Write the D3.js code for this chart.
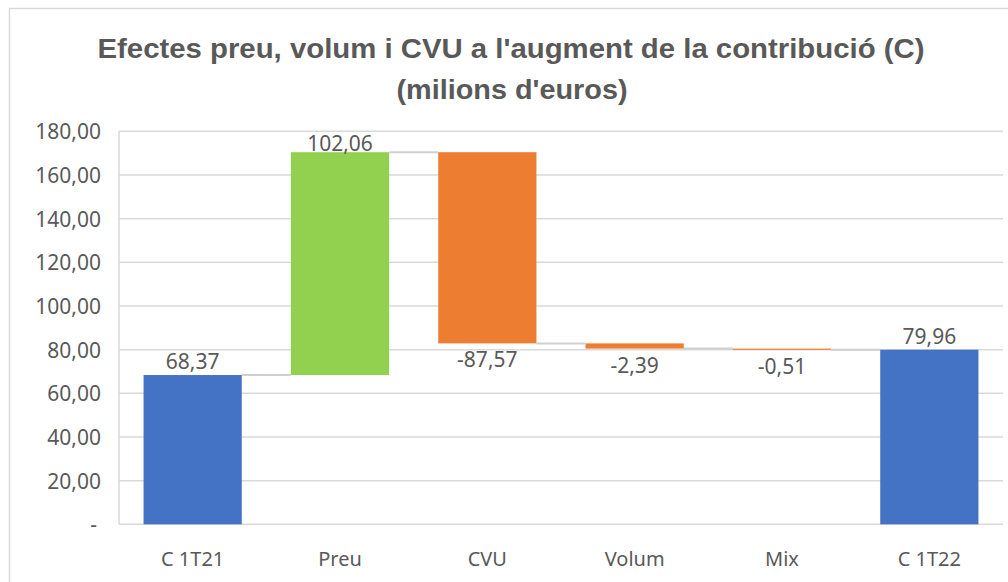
<!DOCTYPE html>
<html>
<head>
<meta charset="utf-8">
<script src="https://cdn.jsdelivr.net/npm/d3@7"></script>
<style>
  html, body { margin: 0; padding: 0; background: #fff; }
  svg { display: block; }
</style>
</head>
<body>
<svg id="chart" width="1008" height="582"></svg>
<script>
// ---- data ----
const categories = ["C 1T21", "Preu", "CVU", "Volum", "Mix", "C 1T22"];
const values = [68.37, 102.06, -87.57, -2.39, -0.51, 79.96];
const kinds = ["total", "delta", "delta", "delta", "delta", "total"];
const yTicks = [0, 20, 40, 60, 80, 100, 120, 140, 160, 180];
const titleLines = ["Efectes preu, volum i CVU a l'augment de la contribució  (C)", "(milions d'euros)"];

// ---- layout ----
const W = 1008, H = 582;
const plot = { left: 119, right: 1003, top: 131.3, bottom: 524.3 };
const textColor = "#595959";
const gridColor = "#d9d9d9";
const colors = { total: "#4472C4", up: "#92D050", down: "#ED7D31" };
const numFmt = v => d3.format(".2f")(v).replace(".", ",").replace("\u2212", "-");

const svg = d3.select("#chart");

// chart border
svg.append("rect").attr("x", 9.5).attr("y", 8.5).attr("width", W + 20).attr("height", H + 20)
  .attr("fill", "#fff").attr("stroke", gridColor).attr("stroke-width", 1.5);

// title
const title = svg.append("g").attr("font-family", "'Liberation Sans Narrow','Arial Narrow','Liberation Sans',sans-serif")
  .attr("font-weight", "bold").attr("fill", textColor).attr("font-size", 28);
title.append("text").attr("x", 511).attr("y", 58).attr("text-anchor", "middle")
  .attr("textLength", 827).attr("lengthAdjust", "spacingAndGlyphs").text(titleLines[0]);
title.append("text").attr("x", 512).attr("y", 99).attr("text-anchor", "middle")
  .attr("textLength", 231).attr("lengthAdjust", "spacingAndGlyphs").text(titleLines[1]);

// scales
const x = d3.scaleBand().domain(categories).range([plot.left, plot.right]).paddingInner(1/3).paddingOuter(1/6);
const y = d3.scaleLinear().domain([0, 180]).range([plot.bottom, plot.top]);

// waterfall computation
let running = 0;
const bars = categories.map((c, i) => {
  const v = values[i];
  let lo, hi, kind;
  if (kinds[i] === "total") { lo = 0; hi = v; running = v; kind = "total"; }
  else { const start = running; running = start + v; lo = Math.min(start, running); hi = Math.max(start, running); kind = v >= 0 ? "up" : "down"; }
  return { cat: c, v, lo, hi, end: running, kind };
});

// gridlines
svg.append("g").selectAll("line").data(yTicks).join("line")
  .attr("x1", plot.left).attr("x2", plot.right)
  .attr("y1", d => y(d)).attr("y2", d => y(d))
  .attr("stroke", gridColor).attr("stroke-width", 1.5);
// left plot edge line
svg.append("line").attr("x1", plot.left).attr("x2", plot.left).attr("y1", plot.top).attr("y2", plot.bottom)
  .attr("stroke", gridColor).attr("stroke-width", 1.5);

// y axis labels
const yAxis = d3.axisLeft(y).tickValues(yTicks).tickSize(0).tickPadding(0)
  .tickFormat(d => d === 0 ? "-" : numFmt(d));
const yg = svg.append("g").attr("transform", `translate(${plot.left - 18},0)`).call(yAxis);
yg.select(".domain").remove();
yg.selectAll("text").attr("font-family", "'Noto Sans','Open Sans',sans-serif").attr("font-size", 21)
  .attr("fill", textColor).attr("dy", "0.36em");
yg.selectAll(".tick").filter(d => d === 0).select("text").attr("dx", -4);

// x axis labels
const xAxis = d3.axisBottom(x).tickSize(0).tickPadding(0);
const xg = svg.append("g").attr("transform", `translate(0,${plot.bottom})`).call(xAxis);
xg.select(".domain").remove();
xg.selectAll("text").attr("font-family", "'Noto Sans','Open Sans',sans-serif").attr("font-size", 20)
  .attr("fill", textColor).attr("dy", 0).attr("y", 42);

// connectors
const conn = [];
for (let i = 0; i < bars.length - 1; i++) {
  conn.push({ x1: x(bars[i].cat) + x.bandwidth(), x2: x(bars[i + 1].cat), v: bars[i].end });
}
svg.append("g").selectAll("line").data(conn).join("line")
  .attr("x1", d => d.x1).attr("x2", d => d.x2)
  .attr("y1", d => y(d.v)).attr("y2", d => y(d.v))
  .attr("stroke", "#d0d0d0").attr("stroke-width", 2);

// bars
svg.append("g").selectAll("rect").data(bars).join("rect")
  .attr("x", d => x(d.cat)).attr("width", x.bandwidth())
  .attr("y", d => y(d.hi)).attr("height", d => Math.max(1.2, y(d.lo) - y(d.hi)))
  .attr("fill", d => colors[d.kind]);

// data labels
svg.append("g").selectAll("text").data(bars).join("text")
  .attr("x", d => x(d.cat) + x.bandwidth() / 2)
  .attr("y", d => d.v >= 0 ? Math.max(y(d.hi) - 6, plot.top + 20) : y(d.lo) + 24)
  .attr("text-anchor", "middle")
  .attr("font-family", "'Noto Sans','Open Sans',sans-serif").attr("font-size", 21)
  .attr("fill", textColor)
  .text(d => numFmt(d.v));
</script>
</body>
</html>
